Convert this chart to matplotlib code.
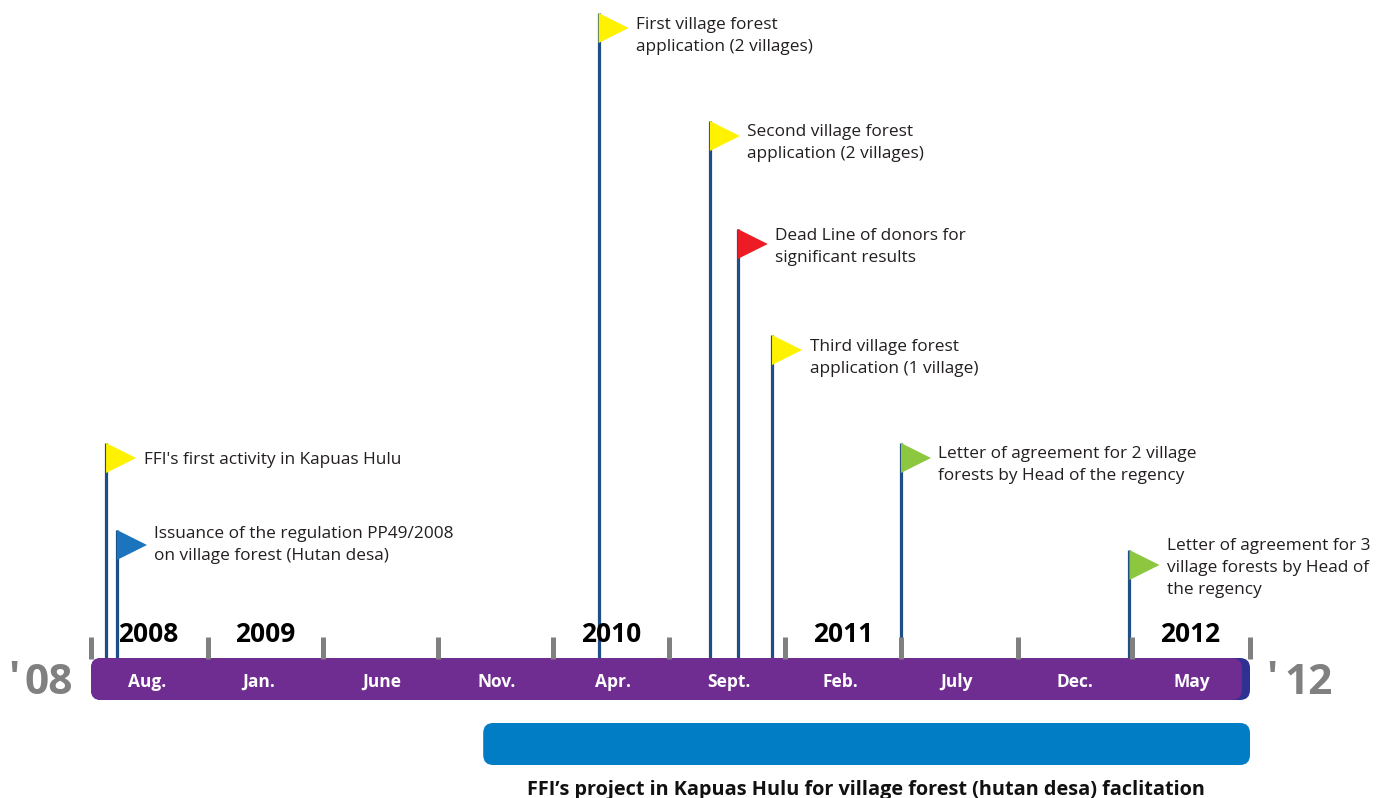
import matplotlib
matplotlib.use("Agg")
import matplotlib.pyplot as plt
from matplotlib.patches import FancyBboxPatch, Polygon

plt.rcParams['font.family'] = ['Open Sans', 'DejaVu Sans']

# time axis: months since the start of the bar
total_months = 50
tick_months = [0, 5.05, 10, 14.95, 19.95, 24.95, 29.95, 34.95, 40, 44.9, 50]
month_labels = ["Aug.", "Jan.", "June", "Nov.", "Apr.", "Sept.", "Feb.", "July", "Dec.", "May"]
month_label_pos = [2.4, 7.25, 12.55, 17.5, 22.5, 27.5, 32.35, 37.35, 42.45, 47.5]
year_labels = ["2008", "2009", "2010", "2011", "2012"]
year_label_pos = [2.45, 7.5, 22.45, 32.45, 47.4]

# events: month, height of the pole, height of the label, colour, text
event_months = [0.65, 1.12, 21.9, 26.7, 27.9, 29.38, 34.94, 44.8]
event_heights = [215, 128, 645, 537, 429, 323, 215, 108]
label_heights = [198, 113, 622, 515, 411, 300, 193, 90]
event_colors = ["#FFF200", "#1C75BC", "#FFF200", "#FFF200", "#ED1C24", "#FFF200", "#8DC63F", "#8DC63F"]
event_texts = [
    "FFI's first activity in Kapuas Hulu",
    "Issuance of the regulation PP49/2008\non village forest (Hutan desa)",
    "First village forest\napplication (2 villages)",
    "Second village forest\napplication (2 villages)",
    "Dead Line of donors for\nsignificant results",
    "Third village forest\napplication (1 village)",
    "Letter of agreement for 2 village\nforests by Head of the regency",
    "Letter of agreement for 3\nvillage forests by Head of\nthe regency",
]

project_start = 16.95
project_end = 50
project_text = "FFI\u2019s project in Kapuas Hulu for village forest (hutan desa) faclitation"

px_month = 1159 / total_months  # pixels per month
fig = plt.figure(figsize=(13.84, 7.98), dpi=100)
ax = fig.add_axes([0, 0, 1, 1])
ax.set_xlim(-91 / px_month, (1384 - 91) / px_month)
ax.set_ylim(-140, 658)
ax.axis("off")


def round_bar(x0, x1, y0, y1, color, z):
    r = 10 / px_month
    ax.add_patch(FancyBboxPatch((x0, y0), x1 - x0, y1 - y0, boxstyle="round,pad=0,rounding_size=%f" % r,
                                mutation_aspect=px_month, fc=color, ec="none", zorder=z))


# main bar with dark end
round_bar(0, total_months, -42, 0, "#2E3192", 2)
round_bar(0, total_months - 0.35, -42, 0, "#6F2C91", 3)
round_bar(project_start - 0.03, project_end, -107, -65, "#007DC5", 2)

ax.vlines(tick_months, -1, 21, color="#808080", lw=3.6, zorder=4)

for m, h, lh, c, t in zip(event_months, event_heights, label_heights, event_colors, event_texts):
    ax.vlines(m, 0, h, color="#1F4E86", lw=2.3, zorder=1)
    w = 30 / px_month
    ax.add_patch(Polygon([(m, h), (m + w, h - 15), (m, h - 30)], fc=c, ec="none", zorder=5))
    ax.text(m + 37.5 / px_month, lh, t, fontsize=12.4, color="#231F20", va="center", ha="left",
            linespacing=1.47, zorder=6)

for p, t in zip(month_label_pos, month_labels):
    ax.text(p, -24, t, color="white", fontsize=12.5, fontweight="bold", ha="center", va="center", zorder=6)
for p, t in zip(year_label_pos, year_labels):
    ax.text(p, 23.5, t, color="black", fontsize=19, fontweight="bold", ha="center", va="center", zorder=6)

# the big year marks sit either side of the bar
for x_tick, x_num, t in [(-3.58, -2.85, "08"), (50.7, 51.5, "12")]:
    ax.text(x_tick, -22, "'", color="#808080", fontsize=30.5, fontweight="bold", ha="left", va="center", zorder=6)
    ax.text(x_num, -25, t, color="#808080", fontsize=30.5, fontweight="bold", ha="left", va="center", zorder=6)
ax.text((866 - 91) / px_month, -132, project_text, color="#111111", fontsize=14.3, fontweight="bold",
        ha="center", va="center", zorder=6)

fig.savefig("out.png", dpi=100)
